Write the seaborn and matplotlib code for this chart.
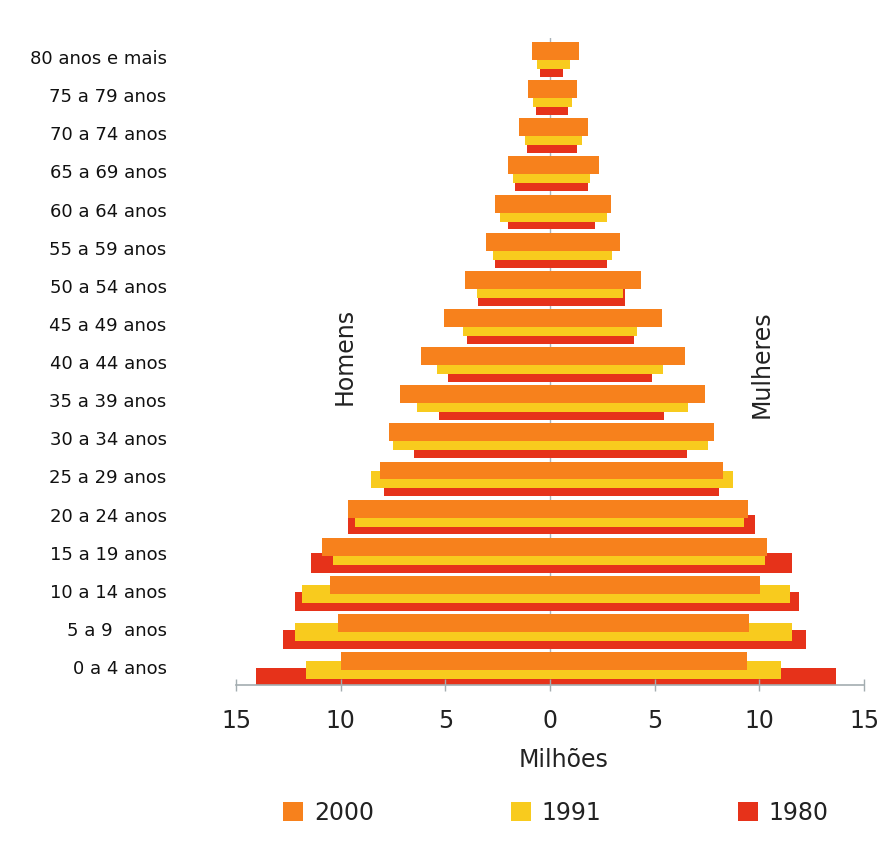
import numpy as np
import pandas as pd
import matplotlib
matplotlib.use("Agg")
import matplotlib.pyplot as plt
import seaborn as sns

# Age groups, youngest first (bottom of the pyramid)
age_groups = ["0 a 4 anos", "5 a 9  anos", "10 a 14 anos", "15 a 19 anos",
              "20 a 24 anos", "25 a 29 anos", "30 a 34 anos", "35 a 39 anos",
              "40 a 44 anos", "45 a 49 anos", "50 a 54 anos", "55 a 59 anos",
              "60 a 64 anos", "65 a 69 anos", "70 a 74 anos", "75 a 79 anos",
              "80 anos e mais"]

# Population in millions
men_2000 = [10.00, 10.11, 10.51, 10.88, 9.64, 8.12, 7.69, 7.17, 6.16, 5.06,
            4.06, 3.07, 2.63, 1.99, 1.47, 1.05, 0.87]
men_1991 = [11.66, 12.18, 11.86, 10.35, 9.32, 8.57, 7.49, 6.37, 5.41, 4.14,
            3.50, 2.71, 2.39, 1.75, 1.19, 0.81, 0.64]
men_1980 = [14.06, 12.74, 12.18, 11.43, 9.67, 7.93, 6.50, 5.29, 4.86, 3.98,
            3.43, 2.63, 1.99, 1.67, 1.11, 0.67, 0.48]

women_2000 = [9.40, 9.51, 10.03, 10.35, 9.47, 8.28, 7.85, 7.41, 6.45, 5.34,
              4.33, 3.34, 2.90, 2.36, 1.83, 1.28, 1.39]
women_1991 = [11.03, 11.58, 11.47, 10.27, 9.27, 8.73, 7.56, 6.61, 5.41, 4.14,
              3.50, 2.95, 2.71, 1.91, 1.51, 1.04, 0.96]
women_1980 = [13.65, 12.22, 11.90, 11.58, 9.79, 8.07, 6.53, 5.45, 4.89, 4.01,
              3.58, 2.71, 2.15, 1.83, 1.28, 0.85, 0.62]

years = ["2000", "1991", "1980"]
year_colors = {"2000": "#F7811C", "1991": "#F8CB1E", "1980": "#E6321A"}
x_ticks = [-15, -10, -5, 0, 5, 10, 15]
x_tick_labels = ["15", "10", "5", "0", "5", "10", "15"]

men = {"2000": men_2000, "1991": men_1991, "1980": men_1980}
women = {"2000": women_2000, "1991": women_1991, "1980": women_1980}

# Each year's bar is shifted vertically inside its age group
offsets = {"2000": 0.157, "1991": -0.08, "1980": -0.27}
heights = {"2000": 0.47, "1991": 0.47, "1980": 0.50}

fig = plt.figure(figsize=(8.81, 8.42), dpi=100)
ax = fig.add_axes([236 / 881, 1 - 685 / 842, 628 / 881, (685 - 38) / 842])

pos = np.arange(len(age_groups), dtype=float)
ax.axvline(0, color="#a9b3ba", lw=1.0, zorder=0)

# Oldest census first so the newest sits on top
for yr in ["1980", "1991", "2000"]:
    ypos = pos + offsets[yr]
    df_m = pd.DataFrame({"pos": ypos, "val": -np.array(men[yr])})
    df_w = pd.DataFrame({"pos": ypos, "val": np.array(women[yr])})
    sns.barplot(data=df_m, x="val", y="pos", orient="h", native_scale=True,
                width=heights[yr], color=year_colors[yr], saturation=1,
                errorbar=None, linewidth=0, ax=ax, label=yr)
    sns.barplot(data=df_w, x="val", y="pos", orient="h", native_scale=True,
                width=heights[yr], color=year_colors[yr], saturation=1,
                errorbar=None, linewidth=0, ax=ax)

ax.set_xlim(-15, 15)
ax.set_ylim(-0.47, 16.5)

for s in ["top", "right", "left"]:
    ax.spines[s].set_visible(False)
ax.spines["bottom"].set_color("#a3adb0")
ax.spines["bottom"].set_linewidth(1.2)

ax.set_xticks(x_ticks)
ax.set_xticklabels(x_tick_labels)
ax.tick_params(axis="x", direction="inout", length=8, width=1, color="#a3adb0",
               labelsize=17, labelcolor="#222222", pad=13)

ax.set_yticks(pos)
ax.set_yticklabels(age_groups)
ax.tick_params(axis="y", length=0, labelsize=13, labelcolor="#111111", pad=50)

ax.set_xlabel("Milhões", fontsize=17, color="#222222")
ax.xaxis.set_label_coords((564 - 236) / 628, -(748 - 685) / 647)
ax.set_ylabel("")

ax.text(-9.8, 8.15, "Homens", rotation=90, fontsize=17, color="#222222",
        ha="center", va="center")
ax.text(10.1, 7.95, "Mulheres", rotation=90, fontsize=17, color="#222222",
        ha="center", va="center")

handles, labels = ax.get_legend_handles_labels()
if ax.get_legend() is not None:
    ax.get_legend().remove()
order = [labels.index(y) for y in years]
leg = fig.legend([handles[i] for i in order], [labels[i] for i in order],
                 loc="center", bbox_to_anchor=(556 / 881, 1 - 813 / 842),
                 ncol=3, frameon=False, fontsize=17, handlelength=0.85,
                 handleheight=0.85, handletextpad=0.45, columnspacing=5.8)
for t in leg.get_texts():
    t.set_color("#222222")

fig.savefig("out.png", dpi=100, facecolor="white")
